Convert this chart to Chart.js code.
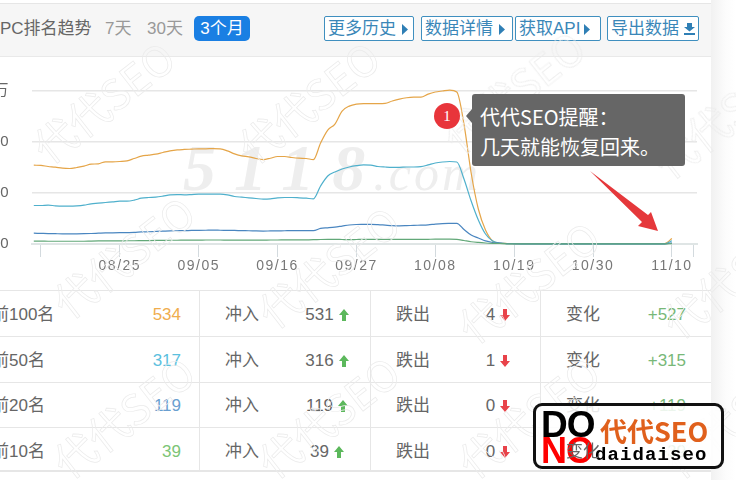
<!DOCTYPE html>
<html><head><meta charset="utf-8">
<script src="https://cdn.jsdelivr.net/npm/chart.js@4"></script>
<style>
html,body{margin:0;padding:0;background:#fff;overflow:hidden}
body{width:736px;height:480px;position:relative;font-family:"Liberation Sans","Noto Sans CJK SC",sans-serif;color:#666}
.abs{position:absolute;white-space:nowrap}
#side{left:711px;top:0;width:25px;height:480px;background:linear-gradient(90deg,#f1f1f1,#fcfcfc 60%,#fff)}
#head{left:0;top:3px;width:711px;height:52px;background:#f6f6f6;border-top:1px solid #e6e6e6;border-bottom:1px solid #e9e9e9}
.t{font-size:17px;line-height:24px;top:17px}
.btn{top:16px;height:23px;border:1px solid #3f8fbf;border-radius:2px;background:#fff;color:#3a87b8;font-size:17px;line-height:23px;text-align:left;padding-left:3px}
.btn svg{vertical-align:-1px;margin-left:6px}
#b3m{left:194px;top:16px;width:56px;height:25px;background:#1a7fe3;border-radius:5px;color:#fff;font-size:17px;line-height:25px;text-align:center}
#bg5118{left:183px;top:130px;font:italic bold 66px "Liberation Serif",serif;color:#eeeeee;letter-spacing:18px}
#bg5118 span{font-size:50px;font-weight:normal;letter-spacing:3px;margin-left:-10px}
canvas#c{position:absolute;left:-48px;top:60px}
.line{background:#e6e6e6}
.cell{font-size:17px;line-height:24px}
.num{font-size:17px;line-height:24px}
#tip{left:472px;top:94px;width:213px;height:72px;background:#666;border-radius:3px;color:#fff;font-size:20px;line-height:30px;box-sizing:border-box;padding:8px 0 0 8px;font-family:"Noto Sans CJK SC",sans-serif}
#tipar{left:466px;top:109px;width:0;height:0;border-top:7px solid transparent;border-bottom:7px solid transparent;border-right:6px solid #666}
#dot{left:434px;top:103px;width:26px;height:26px;border-radius:50%;background:#e8353b;color:#fff;text-align:center;font:15px/26px "Liberation Serif",serif}
.wm{font:42px "Noto Sans CJK SC",sans-serif;color:transparent;-webkit-text-stroke:.7px #ebebeb;transform:rotate(-38deg);transform-origin:center;pointer-events:none}
#logo{left:533px;top:403px;width:191px;height:66px;box-sizing:border-box;border:3px solid #111;border-radius:9px;background:rgba(255,255,255,.86)}
</style></head><body>
<div class="abs" id="side"></div>
<div class="abs" id="head"></div>
<div class="abs t" style="left:0">PC排名趋势</div>
<div class="abs t" style="left:105px;color:#999">7天</div>
<div class="abs t" style="left:147px;color:#999">30天</div>
<div class="abs" id="b3m">3个月</div>
<div class="abs btn" style="left:324px;width:85px">更多历史<svg width="6" height="11"><path d="M0 0L6 5.5L0 11Z" fill="#2f7fb5"/></svg></div>
<div class="abs btn" style="left:421px;width:87px">数据详情<svg width="6" height="11"><path d="M0 0L6 5.5L0 11Z" fill="#2f7fb5"/></svg></div>
<div class="abs btn" style="left:515px;width:81px">获取API<svg width="6" height="11" style="margin-left:4px"><path d="M0 0L6 5.5L0 11Z" fill="#2f7fb5"/></svg></div>
<div class="abs btn" style="left:607px;width:87px">导出数据<svg width="11" height="12" style="margin-left:5px"><path d="M3 0H8V4H11L5.5 8.5L0 4H3ZM0 10H11V12H0Z" fill="#2f7fb5"/></svg></div>

<div class="abs" id="bg5118">5118<span>.com</span></div>
<canvas id="c" width="760" height="223" style="width:760px;height:223px"></canvas>

<div id="table"></div>
<div id="wms"></div>

<div class="abs" id="tip">代代SEO提醒：<br>几天就能恢复回来。</div>
<div class="abs" id="tipar"></div>
<div class="abs" id="dot">1</div>
<svg class="abs" style="left:0;top:0;pointer-events:none" width="736" height="480"><path d="M590 171L648 215L651 212L658 231L638 226L642 222Z" fill="#e5383b"/></svg>

<div class="abs" id="logo"></div>
<div class="abs" style="left:541px;top:407px;font:bold 37px/36px 'Liberation Sans';color:#000;letter-spacing:-1px">DO</div>
<div class="abs" style="left:541px;top:434px;font:bold 36px/34px 'Liberation Sans';color:#f00;letter-spacing:-1px">NO</div>
<div class="abs" style="left:600px;top:414px;font:bold 27px/34px 'Noto Sans CJK SC';color:#e0601c">代代SEO</div>
<div class="abs" style="left:595px;top:444px;font:bold 19px/22px 'Liberation Mono';color:#000;letter-spacing:1.1px">daidaiseo</div>
<div class="abs cell" id="topchg" style="left:566px;top:440px;color:#666">变化</div>

<script>
const categories = ["08/13","08/14","08/15","08/16","08/17","08/18","08/19","08/20","08/21","08/22","08/23","08/24","08/25","08/26","08/27","08/28","08/29","08/30","08/31","09/01","09/02","09/03","09/04","09/05","09/06","09/07","09/08","09/09","09/10","09/11","09/12","09/13","09/14","09/15","09/16","09/17","09/18","09/19","09/20","09/21","09/22","09/23","09/24","09/25","09/26","09/27","09/28","09/29","09/30","10/01","10/02","10/03","10/04","10/05","10/06","10/07","10/08","10/09","10/10","10/11","10/12","10/13","10/14","10/15","10/16","10/17","10/18","10/19","10/20","10/21","10/22","10/23","10/24","10/25","10/26","10/27","10/28","10/29","10/30","10/31","11/01","11/02","11/03","11/04","11/05","11/06","11/07","11/08","11/09","11/10"];
const tickDates = ["08/14","08/25","09/05","09/16","09/27","10/08","10/19","10/30","11/10","11/13"];
const hiddenTickDates = ["08/14","11/13"];
const yLabels = ["0","5000","10000","1.5万"];
const top100 = [7730,7700,7600,7530,7430,7400,7500,7630,7830,7860,8060,8060,8090,8150,8380,8610,8710,8810,8970,9130,9230,9270,9300,9330,9330,9360,9330,9130,8840,8640,8550,8380,8280,8410,8580,8580,8480,8410,8380,8280,9900,11170,11760,13030,13520,13720,13770,13770,13770,13790,14020,14210,14340,14390,14400,14700,14900,15000,15090,14900,11760,6960,3430,1370,300,100,50,40,30,30,30,30,30,30,30,30,30,30,30,30,30,30,30,30,30,30,30,30,40,534];
const top50 = [3775,3775,3810,3740,3710,3710,3740,3810,3940,4000,4070,4130,4200,4200,4300,4490,4560,4590,4690,4820,4850,4820,4850,4890,4890,4890,4890,4820,4660,4590,4530,4460,4400,4430,4530,4560,4560,4530,4490,4430,5690,6670,7060,7350,7550,7680,7750,7730,7600,7550,7520,7520,7550,7550,7580,7750,7940,8040,8090,8040,6370,4210,2350,980,300,100,40,30,20,20,20,20,20,20,20,20,20,20,20,20,20,20,20,20,20,20,20,20,20,317];
const top20 = [1060,1040,1020,1010,1000,1000,1000,1010,1030,1060,1090,1100,1110,1120,1130,1180,1200,1230,1260,1290,1300,1310,1330,1340,1350,1360,1350,1340,1330,1310,1300,1280,1270,1280,1290,1300,1310,1310,1310,1310,1530,1590,1660,1760,1860,1910,1920,1930,1900,1850,1800,1780,1800,1830,1850,1880,1950,2000,2020,2030,1420,880,590,300,150,100,40,20,10,10,10,10,10,10,10,10,10,10,10,10,10,10,10,10,10,10,10,10,10,119];
const top10 = [280,280,270,270,270,270,270,270,290,300,300,310,310,320,320,330,340,350,360,370,370,380,380,380,390,390,390,380,380,380,380,380,380,390,390,400,400,400,410,420,440,450,450,440,430,440,450,450,450,460,460,460,460,450,450,460,470,470,470,460,340,220,150,100,70,50,20,10,5,5,5,5,5,5,5,5,5,5,5,5,5,5,5,5,5,5,5,5,5,39];

const rowNames = ["前100名","前50名","前20名","前10名"];
const rowTotals = ["534","317","119","39"];
const rowIn = ["531","316","119","39"];
const rowOut = ["4","1","0","0"];
const rowChange = ["+527","+315","+119","+39"];
const rowColors = ["#f0ad4e","#5bc0de","#6a9fd0","#7cc576"];

const toPts = a => a.map((v,i)=>({x:i,y:v}));
const ds = (label,data,color,order)=>({label,order,data:toPts(data),borderColor:color,borderWidth:1.2,pointRadius:0,cubicInterpolationMode:'monotone',fill:false,clip:false});

const spacing = {id:'spacing',beforeDraw(ch){ch.ctx.letterSpacing='1.5px';}};
new Chart(document.getElementById('c'),{
  type:'line',
  plugins:[spacing],
  data:{datasets:[ds('前100名',top100,'#e5a548',4),ds('前50名',top50,'#4fb0cc',3),ds('前20名',top20,'#4a86c0',2),ds('前10名',top10,'#62a878',1)]},
  options:{
    responsive:false,animation:false,devicePixelRatio:1,
    layout:{padding:{top:30,right:15,left:0,bottom:0}},
    plugins:{legend:{display:false},tooltip:{enabled:false}},
    scales:{
      x:{type:'linear',min:-0.25,max:92.5,
        afterBuildTicks(s){s.ticks=tickDates.map(d=>({value:categories.indexOf(d)>=0?categories.indexOf(d):92}));},
        afterFit(s){s.height=39;},
        grid:{drawOnChartArea:false,drawTicks:true,tickLength:13,tickColor:'#d3dade',color:'#d3dade'},
        border:{color:'#dfe5e5',width:2},
        ticks:{autoSkip:false,maxRotation:0,padding:1,color:'#777',font:{size:14,family:'"Liberation Sans"'},
          callback(v){const d=v===92?"11/13":categories[v];return hiddenTickDates.includes(d)?"":d;}}
      },
      y:{min:0,max:15000,
        afterBuildTicks(s){s.ticks=yLabels.map((_,i)=>({value:i*5000}));},
        afterFit(s){s.width=80;},
        grid:{color:'#e6e6e6',lineWidth:1.6,drawTicks:false},
        border:{display:false},
        ticks:{padding:22,color:'#666',font:{size:15,family:'"Liberation Sans","Noto Sans CJK SC"'},
          callback(v){return yLabels[v/5000];}}
      }
    }
  }
});

/* table */
const T=document.getElementById('table');
const rowY=[290,336,382,427];
const rowText=[303,349,394,440];
function add(html,style,cls){const d=document.createElement('div');d.className='abs '+(cls||'');d.style.cssText=style;d.innerHTML=html;T.appendChild(d);}
const up='<svg width="10" height="12" style="margin-left:5px;vertical-align:-1px"><path d="M5 0L10 6H7V12H3V6H0Z" fill="#5cb85c"/></svg>';
const down='<svg width="10" height="12" style="margin-left:5px;vertical-align:-1px"><path d="M5 12L10 6H7V0H3V6H0Z" fill="#e8434a"/></svg>';
rowY.forEach(y=>add('',`left:0;top:${y}px;width:711px;height:1px`,'line'));
add('','left:0;top:470px;width:711px;height:2px','line');
[199,370,540].forEach(x=>add('',`left:${x}px;top:290px;width:1px;height:181px`,'line'));
rowNames.forEach((n,i)=>{
  const t=rowText[i];
  add(n,`left:-8px;top:${t}px`,'cell');
  add(rowTotals[i],`right:${736-181}px;top:${t}px;color:${rowColors[i]}`,'num');
  add('冲入',`left:225px;top:${t}px`,'cell');
  add(rowIn[i]+up,`left:277px;width:100px;text-align:center;top:${t}px`,'num');
  add('跌出',`left:396px;top:${t}px`,'cell');
  add(rowOut[i]+down,`left:448px;width:100px;text-align:center;top:${t}px`,'num');
  if(i<3) add('变化',`left:566px;top:${t}px`,'cell');
  add(rowChange[i],`right:${736-686}px;top:${t}px;color:#78b878`,'num');
});

/* watermarks */
const wmSpots=[[20,70],[225,70],[430,60],[640,85],[40,225],[245,235],[445,250],[650,245],[40,385],[245,385],[445,385],[650,385]];
const W=document.getElementById('wms');
wmSpots.forEach(p=>{const d=document.createElement('div');d.className='abs wm';d.style.left=p[0]+'px';d.style.top=p[1]+'px';d.textContent='代代SEO';W.appendChild(d);});
</script>
</body></html>
